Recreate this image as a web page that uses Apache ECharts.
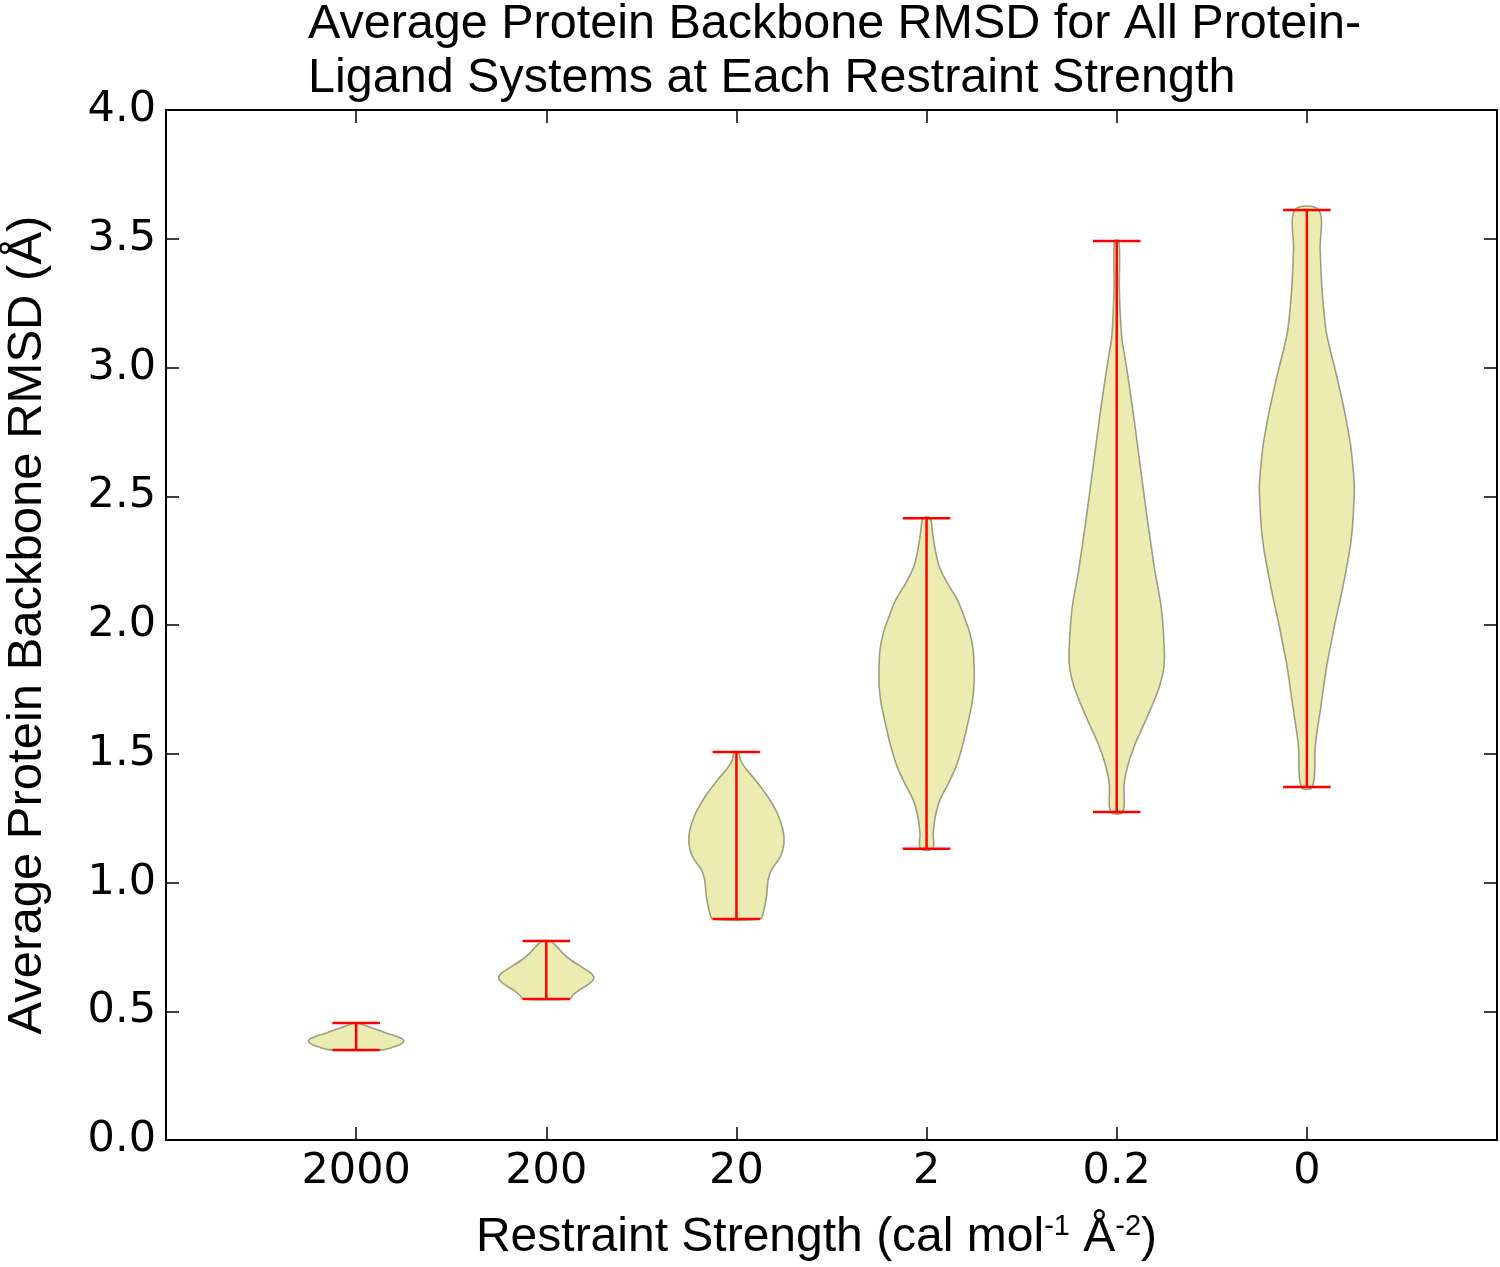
<!DOCTYPE html>
<html>
<head>
<meta charset="utf-8">
<script src="https://cdn.jsdelivr.net/npm/echarts@6/dist/echarts.min.js"></script>
<style>
html,body{margin:0;padding:0;background:#fff;}
#chart{width:1500px;height:1267px;}
</style>
</head>
<body>
<div id="chart"></div>
<script>
// ---- data ----
const categories = ['2000', '200', '20', '2', '0.2', '0'];
const yTicks = [0, 0.5, 1.0, 1.5, 2.0, 2.5, 3.0, 3.5, 4.0];
const mins  = [0.350, 0.548, 0.858, 1.131, 1.274, 1.371];
const maxes = [0.454, 0.773, 1.507, 2.415, 3.491, 3.612];

// violin density profiles (RMSD value, half-width in x-axis units)
const v2000Y = [0.350, 0.362, 0.375, 0.388, 0.401, 0.414, 0.434, 0.454];
const v2000W = [0.14, 0.20, 0.242, 0.25, 0.217, 0.165, 0.088, 0.01];
const v200Y = [0.548, 0.563, 0.583, 0.608, 0.628, 0.647, 0.673, 0.699, 0.725, 0.751, 0.773];
const v200W = [0.123, 0.14, 0.175, 0.228, 0.25, 0.237, 0.184, 0.13, 0.088, 0.056, 0.02];
const v20Y = [0.858, 0.880, 0.945, 1.010, 1.049, 1.100, 1.152, 1.204, 1.269, 1.333, 1.398, 1.437, 1.470, 1.507];
const v20W = [0.123, 0.14, 0.158, 0.167, 0.184, 0.231, 0.25, 0.245, 0.215, 0.165, 0.10, 0.055, 0.025, 0.01];
const v2Y = [1.131, 1.191, 1.256, 1.320, 1.385, 1.450, 1.515, 1.579, 1.644, 1.709, 1.773, 1.838, 1.903, 1.968, 2.032, 2.097, 2.162, 2.227, 2.291, 2.356, 2.415];
const v2W = [0.032, 0.035, 0.046, 0.07, 0.115, 0.155, 0.183, 0.205, 0.225, 0.242, 0.25, 0.25, 0.245, 0.228, 0.198, 0.163, 0.11, 0.067, 0.046, 0.032, 0.018];
const v02Y = [1.274, 1.383, 1.458, 1.534, 1.609, 1.685, 1.761, 1.836, 1.912, 2.063, 2.214, 2.365, 2.516, 2.667, 2.818, 2.970, 3.045, 3.121, 3.300, 3.491];
const v02W = [0.032, 0.039, 0.06, 0.095, 0.14, 0.185, 0.225, 0.248, 0.25, 0.235, 0.2, 0.17, 0.142, 0.115, 0.088, 0.058, 0.042, 0.026, 0.014, 0.012];
const v0Y = [1.371, 1.535, 1.689, 1.843, 1.919, 1.996, 2.073, 2.150, 2.227, 2.303, 2.380, 2.457, 2.534, 2.611, 2.687, 2.764, 2.841, 2.918, 2.995, 3.071, 3.148, 3.302, 3.455, 3.612];
const v0W = [0.03, 0.045, 0.075, 0.105, 0.125, 0.145, 0.168, 0.19, 0.21, 0.228, 0.24, 0.246, 0.25, 0.243, 0.232, 0.215, 0.195, 0.172, 0.148, 0.122, 0.10, 0.08, 0.07, 0.063];

const profileY = [v2000Y, v200Y, v20Y, v2Y, v02Y, v0Y];
const profileW = [v2000W, v200W, v20W, v2W, v02W, v0W];

// ---- chart ----
const chart = echarts.init(document.getElementById('chart'), null, {renderer: 'canvas'});
const tickFont = 'DejaVu Sans';
const textFont = 'Liberation Sans';
const axisLineStyle = {color: '#000', width: 2};
const tickStyle = {show: true, inside: true, length: 13, lineStyle: {color: '#000', width: 1.5}};

const violinData = categories.map((c, i) => [i + 1, mins[i], maxes[i]]);

const option = {
  animation: false,
  backgroundColor: '#fff',
  title: {
    text: 'Average Protein Backbone RMSD for All Protein-\nLigand Systems at Each Restraint Strength',
    left: 303, top: -7,
    textStyle: {fontFamily: textFont, fontSize: 48.5, fontWeight: 'normal', color: '#000', lineHeight: 54}
  },
  grid: {left: 166, right: 3, top: 110, bottom: 127, containLabel: false, outerBoundsMode: 'none'},
  xAxis: [{
    type: 'value', min: 0, max: 7, interval: 1, position: 'bottom',
    name: 'Restraint Strength (cal mol{sup|-1} Å{sup|-2})',
    nameLocation: 'middle', nameGap: 72,
    nameTextStyle: {
      fontFamily: textFont, fontSize: 48, color: '#000', padding: [0, 30, 0, 0],
      rich: {sup: {fontFamily: textFont, fontSize: 29, color: '#000', verticalAlign: 'top', padding: [0, 0, 22, 0]}}
    },
    axisLine: {show: true, onZero: false, lineStyle: axisLineStyle},
    axisTick: tickStyle,
    axisLabel: {
      margin: 10, fontFamily: tickFont, fontSize: 43, color: '#000',
      formatter: v => categories[v - 1] || ''
    },
    splitLine: {show: false}
  }, {
    type: 'value', min: 0, max: 7, interval: 1, position: 'top',
    axisLine: {show: true, onZero: false, lineStyle: axisLineStyle},
    axisTick: tickStyle,
    axisLabel: {show: false},
    splitLine: {show: false}
  }],
  yAxis: [{
    type: 'value', min: 0, max: 4, interval: 0.5, position: 'left',
    name: 'Average Protein Backbone RMSD (Å)',
    nameLocation: 'middle', nameGap: 114, nameRotate: 90,
    nameTextStyle: {fontFamily: textFont, fontSize: 49, color: '#000'},
    axisLine: {show: true, onZero: false, lineStyle: axisLineStyle},
    axisTick: tickStyle,
    axisLabel: {margin: 10, fontFamily: tickFont, fontSize: 43, color: '#000', formatter: v => v.toFixed(1)},
    splitLine: {show: false}
  }, {
    type: 'value', min: 0, max: 4, interval: 0.5, position: 'right',
    axisLine: {show: true, onZero: false, lineStyle: axisLineStyle},
    axisTick: tickStyle,
    axisLabel: {show: false},
    splitLine: {show: false}
  }],
  series: [{
    type: 'custom',
    name: 'violins',
    xAxisIndex: 0, yAxisIndex: 0,
    data: violinData,
    encode: {x: 0, y: [1, 2]},
    renderItem: function (params, api) {
      const i = params.dataIndex;
      const pos = api.value(0);
      const ys = profileY[i], ws = profileW[i];
      const pts = [];
      for (let k = 0; k < ys.length; k++) pts.push(api.coord([pos + ws[k], ys[k]]));
      for (let k = ys.length - 1; k >= 0; k--) pts.push(api.coord([pos - ws[k], ys[k]]));
      return {
        type: 'polygon',
        shape: {points: pts, smooth: 0.35},
        style: {fill: 'rgba(191,191,0,0.3)', stroke: 'rgba(100,100,70,0.6)', lineWidth: 1.6}
      };
    },
    z: 2
  }, {
    type: 'custom',
    name: 'ranges',
    xAxisIndex: 0, yAxisIndex: 0,
    data: violinData,
    encode: {x: 0, y: [1, 2]},
    renderItem: function (params, api) {
      const pos = api.value(0);
      const lo = api.value(1), hi = api.value(2);
      const pLo = api.coord([pos, lo]), pHi = api.coord([pos, hi]);
      const capL = api.coord([pos - 0.125, lo])[0], capR = api.coord([pos + 0.125, lo])[0];
      const st = {stroke: '#ff0000', lineWidth: 2.5};
      return {
        type: 'group',
        children: [
          {type: 'line', shape: {x1: pLo[0], y1: pLo[1], x2: pHi[0], y2: pHi[1]}, style: st},
          {type: 'line', shape: {x1: capL, y1: pLo[1], x2: capR, y2: pLo[1]}, style: st},
          {type: 'line', shape: {x1: capL, y1: pHi[1], x2: capR, y2: pHi[1]}, style: st}
        ]
      };
    },
    z: 3
  }]
};
chart.setOption(option);
</script>
</body>
</html>
